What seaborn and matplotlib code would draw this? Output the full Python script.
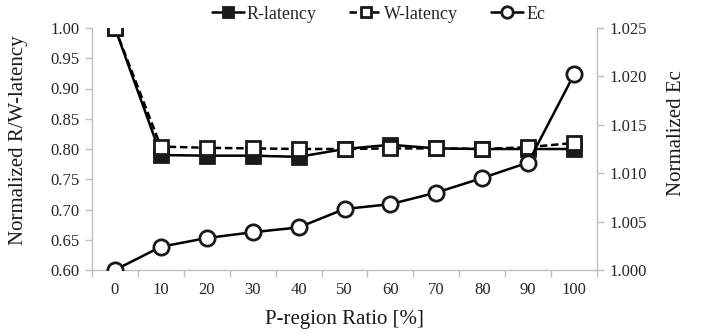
import matplotlib
matplotlib.use("Agg")
import matplotlib.pyplot as plt
import seaborn as sns
import pandas as pd
from matplotlib.ticker import FixedLocator, NullFormatter

ratios = ["0", "10", "20", "30", "40", "50", "60", "70", "80", "90", "100"]
r_latency = [1.000, 0.790, 0.789, 0.789, 0.787, 0.800, 0.807, 0.801, 0.800, 0.800, 0.800]
w_latency = [1.000, 0.804, 0.802, 0.801, 0.800, 0.800, 0.801, 0.801, 0.800, 0.803, 0.810]
ec = [1.0000, 1.0024, 1.0033, 1.0039, 1.0044, 1.0063, 1.0068, 1.0080, 1.0095, 1.0111, 1.0202]

sns.set_theme(style="white")
plt.rcParams['font.family'] = ['Liberation Serif', 'DejaVu Serif']

df = pd.DataFrame({"ratio": ratios, "R-latency": r_latency, "W-latency": w_latency, "Ec": ec})

fig = plt.figure(figsize=(7.02, 3.36), dpi=100)
ax = fig.add_axes([92/702, 1-270/336, (597-92)/702, (270-28)/336])
ax2 = ax.twinx()

lw = 1.8
mew = 2.0
ms = 10

sns.lineplot(data=df, x="ratio", y="R-latency", ax=ax, color="black", lw=lw,
             marker="s", markersize=ms, markerfacecolor="#1a1a1a", markeredgecolor="#1a1a1a",
             markeredgewidth=mew, label="R-latency", legend=False, sort=False)
sns.lineplot(data=df, x="ratio", y="W-latency", ax=ax, color="black", lw=lw,
             linestyle=(0, (3, 1.5)), marker="s", markersize=ms, markerfacecolor="white",
             markeredgecolor="#1a1a1a", markeredgewidth=mew, label="W-latency", legend=False, sort=False)
sns.lineplot(data=df, x="ratio", y="Ec", ax=ax2, color="black", lw=lw,
             marker="o", markersize=ms + 1, markerfacecolor="white", markeredgecolor="#1a1a1a",
             markeredgewidth=mew, label="Ec", legend=False, sort=False)

ax.set_xlim(-0.5, 10.5)
ax.set_ylim(0.60, 1.00)
ax2.set_ylim(1.000, 1.025)

gray = "#bfbfbf"
for a in (ax, ax2):
    a.spines["top"].set_visible(False)
    for side in ("left", "right", "bottom"):
        a.spines[side].set_color(gray)
        a.spines[side].set_linewidth(1.0)
ax2.spines["left"].set_visible(False)
ax2.spines["bottom"].set_visible(False)
ax.spines["right"].set_visible(False)

ax.set_yticks([0.60, 0.65, 0.70, 0.75, 0.80, 0.85, 0.90, 0.95, 1.00])
ax.set_yticklabels([f"{v:.2f}" for v in ax.get_yticks()])
ax2.set_yticks([1.000, 1.005, 1.010, 1.015, 1.020, 1.025])
ax2.set_yticklabels([f"{v:.3f}" for v in ax2.get_yticks()])

ax.set_xticks(range(len(ratios)))
ax.set_xticklabels(ratios)
ax.xaxis.set_minor_locator(FixedLocator([i - 0.5 for i in range(len(ratios) + 1)]))
ax.xaxis.set_minor_formatter(NullFormatter())
tcol = "#262626"
ax.tick_params(axis="x", which="major", length=0, pad=9, labelsize=12, labelcolor=tcol)
ax.tick_params(axis="x", which="minor", length=5, width=1, color=gray, direction="out", bottom=True)
ax.tick_params(axis="y", which="major", length=5, width=1, color=gray, direction="out", left=True,
               labelsize=12, labelcolor=tcol, pad=4)
ax2.tick_params(axis="y", which="major", length=5, width=1, color=gray, direction="out", right=True,
                labelsize=12, labelcolor=tcol, pad=4)

ax.set_xlabel("P-region Ratio [%]", fontsize=15, labelpad=8, color="#1a1a1a")
ax.set_ylabel("Normalized R/W-latency", fontsize=15, color="#1a1a1a")
ax.yaxis.set_label_coords((28 - 92) / 505, (270 - 140) / 242)
ax2.set_ylabel("Normalized Ec", fontsize=15, color="#1a1a1a", rotation=90)
ax2.yaxis.set_label_coords((667 - 92) / 505, (270 - 133) / 242)

h1, l1 = ax.get_legend_handles_labels()
h2, l2 = ax2.get_legend_handles_labels()
fig.legend(h1 + h2, l1 + l2, loc="center", bbox_to_anchor=(0.539, 0.958), ncol=3, frameon=False,
           fontsize=13, handlelength=1.8, handletextpad=0.15, columnspacing=1.8, markerscale=0.75)

fig.savefig("out.png", dpi=100)
